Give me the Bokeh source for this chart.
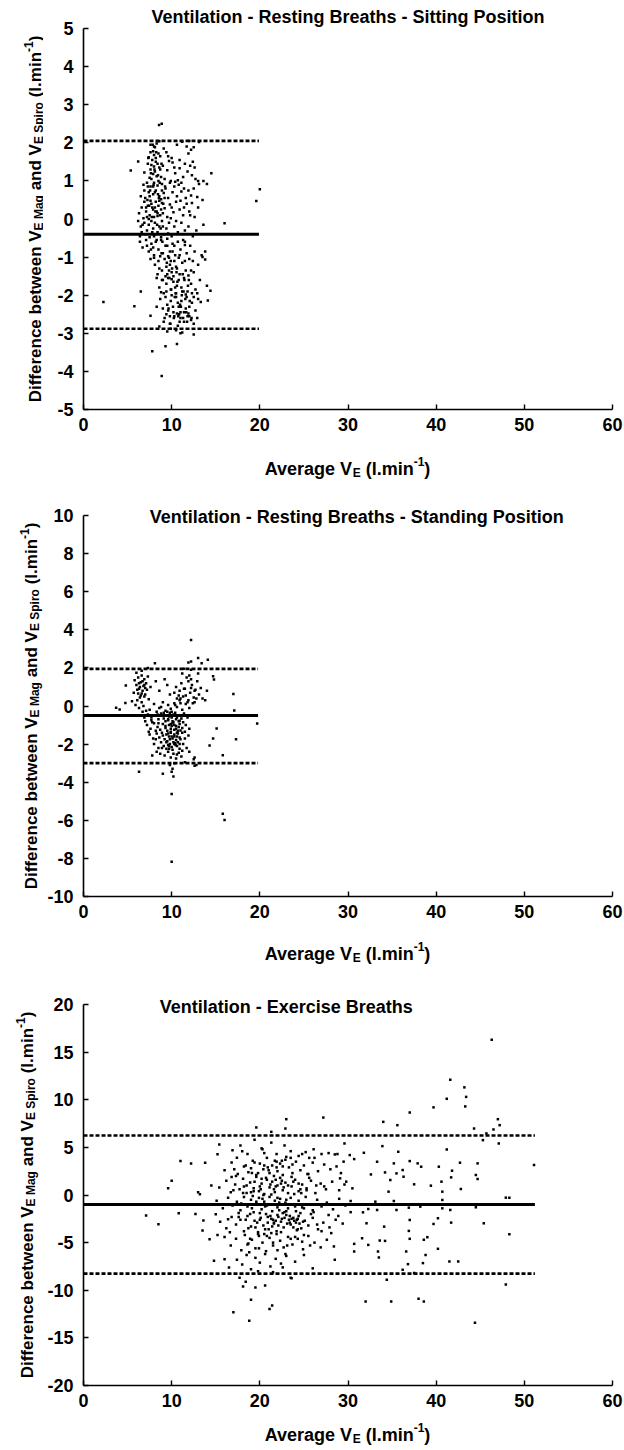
import math
from bokeh.plotting import figure
from bokeh.models import Label, FixedTicker, Range1d
from bokeh.layouts import column, row
from bokeh.core.properties import value
from bokeh.embed import file_html
from bokeh.resources import INLINE

# ---------------- data ----------------
x_ticks = [0, 10, 20, 30, 40, 50, 60]

# Panel 1: sitting
sit_x = [8.87, 8.57, 5.36, 2.26, 5.77, 20.0, 19.6, 16.0, 14.5, 8.87, 7.8, 9.3, 10.6, 11.0, 12.5, 6.5, 7.6, 6.2, 14.0, 13.6, 13.8, 13.8, 13.5, 14.0, 14.4, 14.1, 13.3, 13.0,
         7.6, 8.1, 8.3, 7.9, 8.5, 9.1, 9.4, 10.0, 10.6, 11.7, 12.2, 12.5, 11.9, 7.4, 7.8, 8.2, 8.0, 9.7, 12.4, 10.9, 13.1, 12.0, 11.2, 8.6,
         7.3, 7.7, 8.0, 8.4, 7.6, 8.1, 8.7, 7.9, 8.3, 9.0, 9.5, 10.1, 10.4, 10.9, 11.3, 11.8, 12.1, 12.3, 12.7, 9.2, 8.8, 7.5, 6.9, 10.7, 11.5, 9.9, 8.5,
         6.8, 7.2, 7.6, 8.0, 8.4, 8.9, 9.3, 9.8, 10.3, 10.8, 11.4, 11.9, 12.5, 13.1, 7.4, 7.9, 8.2, 8.6, 9.1, 9.6, 10.1, 10.6, 11.1, 11.6, 12.2, 12.9, 7.0, 6.5, 8.8, 13.5, 10.4,
         6.3, 6.6, 6.9, 7.1, 7.3, 7.5, 7.7, 7.9, 8.0, 8.2, 8.3, 8.5, 8.7, 8.9, 9.2, 9.5, 9.8, 10.2, 10.5, 10.9, 11.3, 11.7, 12.0, 12.6, 13.0, 6.8, 7.6, 8.1, 8.6, 9.0, 9.9, 11.0, 12.3, 7.2, 8.4,
         6.2, 6.5, 6.9, 7.2, 7.4, 7.7, 7.9, 8.1, 8.4, 8.6, 8.9, 9.1, 9.4, 9.7, 10.0, 10.3, 10.7, 11.1, 11.5, 11.9, 12.4, 13.6, 6.4, 7.0, 7.5, 8.0, 8.8, 9.6, 10.5, 12.8,
         6.4, 6.7, 7.1, 7.4, 7.7, 8.0, 8.2, 8.5, 8.8, 9.0, 9.3, 9.5, 9.8, 10.1, 10.4, 10.7, 11.0, 11.3, 11.7, 12.1, 12.6, 13.4, 7.9, 8.7, 9.6, 11.5,
         7.6, 8.1, 8.5, 8.9, 9.2, 9.5, 9.8, 10.0, 10.3, 10.6, 10.9, 11.2, 11.6, 12.0, 12.5, 13.0, 8.4, 9.4, 10.8, 11.9, 9.7, 8.0,
         8.3, 8.6, 8.9, 9.1, 9.4, 9.6, 9.9, 10.2, 10.5, 10.8, 11.1, 11.4, 11.8, 12.2, 12.7, 13.2, 9.3, 10.0, 10.6, 11.6, 8.8, 12.9,
         8.7, 9.0, 9.3, 9.6, 9.9, 10.2, 10.5, 10.8, 11.1, 11.4, 11.7, 12.0, 12.3, 12.7, 13.0, 10.6, 11.9, 9.5, 8.3, 12.5,
         9.2, 9.8, 10.3, 10.7, 11.0, 11.4, 11.8, 12.2, 12.5, 9.5, 10.5, 11.2, 9.9, 8.6, 12.9,
         7.5, 7.8, 8.1, 8.4, 7.7, 8.2, 7.9, 8.6, 7.4, 7.8, 8.3, 8.8, 9.2, 7.3, 8.7, 8.0, 7.6, 9.0, 9.5, 9.9, 10.2, 10.4, 10.7, 11.0, 11.3,
         10.0, 9.7, 10.5, 11.2, 11.6, 12.0, 12.3, 10.9, 9.4, 9.0, 9.8, 10.1, 11.5, 12.2, 8.6, 7.2, 6.6, 6.9, 9.6, 10.3, 11.1, 12.6, 11.4, 10.0, 8.9]
sit_y = [2.5, 2.47, 1.27, -2.18, -2.29, 0.78, 0.47, -0.11, 1.2, -4.12, -3.47, -3.34, -3.28, -3.0, -3.03, -1.9, -2.54, 1.51, 0.92, 1.0, -0.85, -1.06, -1.0, -1.75, -1.88, -2.14, -2.18, 1.0,
         1.95, 1.88, 1.98, 1.78, 1.72, 1.85, 1.75, 1.6, 1.95, 1.9, 1.82, 1.88, 1.72, 1.62, 1.55, 1.6, 1.68, 1.52, 1.5, 1.55, 2.02, 2.05, 2.03, 2.04,
         1.45, 1.42, 1.38, 1.45, 1.3, 1.25, 1.3, 1.18, 1.12, 1.4, 1.28, 1.48, 1.2, 1.33, 1.1, 1.25, 1.4, 1.15, 1.05, 1.05, 1.1, 1.08, 1.22, 1.02, 1.45, 1.0, 1.0,
         0.9, 0.95, 0.85, 0.95, 0.88, 0.92, 0.8, 0.95, 0.85, 0.9, 0.8, 0.75, 0.8, 0.92, 0.7, 0.65, 0.75, 0.6, 0.68, 0.55, 0.7, 0.6, 0.72, 0.55, 0.62, 0.58, 0.55, 0.6, 0.52, 0.5, 0.98,
         0.15, 0.3, 0.45, 0.2, 0.35, 0.1, 0.4, 0.25, 0.05, 0.45, 0.2, 0.35, 0.1, 0.42, 0.28, 0.05, 0.38, 0.18, 0.45, 0.25, 0.1, 0.4, 0.2, 0.05, 0.3, 0.02, 0.48, 0.3, 0.48, 0.15, 0.02, 0.48, 0.42, 0.05, 0.08,
         -0.05, -0.2, -0.1, -0.3, -0.15, -0.05, -0.25, -0.1, -0.35, -0.2, -0.05, -0.4, -0.25, -0.1, -0.45, -0.2, -0.35, -0.1, -0.3, -0.2, -0.45, -0.15, -0.45, -0.4, -0.48, -0.45, -0.48, -0.38, -0.05, -0.3,
         -0.6, -0.75, -0.55, -0.85, -0.65, -0.95, -0.6, -0.8, -0.55, -0.9, -0.7, -0.52, -0.85, -0.65, -0.95, -0.6, -0.8, -0.55, -0.9, -0.7, -0.85, -0.95, -0.75, -0.98, -0.98, -0.68,
         -1.05, -1.2, -1.1, -1.35, -1.05, -1.45, -1.2, -1.4, -1.1, -1.3, -1.45, -1.15, -1.35, -1.05, -1.4, -1.2, -1.45, -1.25, -1.02, -1.48, -1.02, -1.02,
         -1.55, -1.8, -1.6, -1.95, -1.7, -1.55, -1.85, -1.65, -1.95, -1.6, -1.8, -1.55, -1.9, -1.7, -1.85, -1.6, -1.5, -1.58, -1.75, -1.98, -1.92, -1.95,
         -2.1, -2.35, -2.05, -2.4, -2.15, -2.45, -2.05, -2.3, -2.15, -2.45, -2.05, -2.3, -2.2, -2.4, -2.1, -2.48, -2.48, -2.25, -2.3, -2.05,
         -2.6, -2.75, -2.55, -2.8, -2.6, -2.7, -2.55, -2.65, -2.75, -2.95, -2.92, -2.98, -2.88, -2.82, -2.6,
         0.6, 0.3, 0.7, 0.15, 1.05, 1.5, 0.85, 1.35, 0.0, -0.35, -0.55, 0.25, 0.55, 0.85, 1.65, 1.9, 1.75, -0.2, -0.7, -1.1, -1.5, -1.8, -2.2, -2.45, -2.6,
         -2.0, -1.35, -1.25, -1.9, -2.35, -2.55, -1.95, -2.7, -1.9, -1.6, -2.55, -0.85, -1.1, -1.35, -1.3, -0.7, -0.35, 0.75, 1.65, 1.35, 0.95, 1.35, 0.3, 0.3, 0.75]
# additional points in the densest part of the sitting cloud
sit_x_more = [7.35, 7.65, 7.95, 8.25, 8.55, 8.85, 7.45, 7.75, 8.05, 8.35, 8.65, 8.95, 7.55, 7.85, 8.15, 8.45, 8.75, 9.05, 7.25, 7.65, 8.05, 8.45, 8.85, 9.25,
              9.45, 9.75, 10.05, 10.35, 10.65, 10.95, 11.25, 11.55, 11.85, 9.65, 9.95, 10.25, 10.55, 10.85, 11.15, 11.45, 11.75, 12.05,
              9.85, 10.15, 10.45, 10.75, 11.05, 11.35, 11.65, 11.95, 12.25, 10.3, 10.9, 11.5, 9.1, 9.4, 12.4, 12.1, 7.1, 6.7]
sit_y_more = [1.6, 1.2, 0.9, 1.75, 0.55, 1.45, 0.35, 0.05, 1.3, -0.15, 0.95, -0.6, 0.75, 1.95, 0.2, 1.15, -0.25, 0.4, 0.5, -0.8, -0.4, 0.65, -0.9, 0.85,
              -1.15, -1.55, -1.3, -2.05, -1.65, -2.25, -1.45, -2.1, -1.75, -2.35, -1.85, -2.6, -1.4, -2.5, -2.0, -1.6, -2.7, -2.15,
              -2.75, -2.3, -1.95, -2.55, -2.3, -1.9, -2.45, -1.6, -2.6, -0.7, -0.95, -0.6, -2.7, -2.5, -1.1, 0.1, 0.3, -0.15]
sit_mean, sit_upper, sit_lower, sit_xend = -0.4, 2.05, -2.88, 19.9

# Panel 2: standing
std_x = [12.2, 13.0, 14.1, 11.9, 12.2, 13.4, 8.1, 7.3, 14.7, 14.8, 17.0, 17.1, 19.7, 17.3, 15.8, 15.8, 16.0, 10.0, 10.0, 6.3, 9.0, 10.2, 14.3, 14.7, 15.1, 3.7, 4.1, 4.75, 4.8, 5.1, 12.6, 12.6,
         5.8, 6.0, 6.2, 6.3, 6.5, 6.6, 6.7, 6.8, 6.9, 7.0, 7.1, 6.4, 6.1, 6.6, 6.9, 7.2, 5.7, 5.9, 6.3, 6.7, 7.4, 7.6, 6.0, 6.6, 5.5, 7.3, 6.2, 6.8,
         7.5, 8.0, 8.6, 9.0, 9.3, 9.6, 9.9, 10.3, 10.6, 10.9, 11.2, 11.6, 12.0, 8.3,
         6.9, 7.3, 7.7, 8.1, 8.5, 8.8, 9.1, 9.4, 9.6, 9.8, 10.0, 10.2, 10.5, 10.8, 11.1, 11.4, 11.8, 12.3, 9.3, 10.1, 10.9, 7.0,
         7.2, 7.6, 8.0, 8.4, 8.7, 9.0, 9.3, 9.5, 9.7, 9.9, 10.1, 10.3, 10.5, 10.7, 10.9, 11.2, 11.6, 12.0, 8.2, 10.0, 11.0, 7.8,
         7.5, 7.9, 8.3, 8.6, 8.9, 9.2, 9.4, 9.7, 9.9, 10.1, 10.3, 10.5, 10.7, 10.9, 11.2, 11.5, 11.9, 10.2, 9.5, 10.6,
         8.0, 8.5, 8.8, 9.1, 9.4, 9.8, 10.0, 10.4, 10.6, 10.9, 11.3, 11.7, 9.6, 10.3, 10.45,
         8.7, 9.2, 9.6, 9.9, 10.2, 10.5, 10.8, 11.1, 8.3, 12.0, 12.5, 7.8,
         9.8, 10.1, 10.3, 10.0, 12.8, 11.5,
         10.6, 10.9, 11.1, 11.3, 11.5, 11.7, 11.9, 12.1, 12.3, 12.5, 12.7, 12.9, 13.1, 13.3, 13.5, 11.2, 12.0, 12.4, 11.0, 10.5, 9.8, 9.5, 9.2, 8.6, 8.2, 12.2, 11.4, 13.0, 14.0, 13.8, 10.3, 12.6,
         9.5, 9.7, 10.0, 10.2, 10.4, 9.9, 10.6, 10.8, 10.3, 9.6, 9.8, 10.7, 11.0, 10.1, 10.9, 9.3, 9.0, 8.5, 8.2, 11.3,
         11.5, 10.4, 10.8, 11.6, 12.2, 12.8, 11.9, 6.4, 6.7, 6.1, 6.5, 7.0, 9.1, 9.7, 10.6, 8.9, 11.2, 7.4, 7.1, 8.8,
         9.6, 9.9, 10.2, 10.5, 10.8, 9.4, 9.7, 10.0, 10.3, 10.6, 11.0, 11.4, 11.8, 12.2, 12.6, 6.3, 6.6, 6.9, 7.7, 8.4]
std_y = [3.47, 2.52, 2.43, 2.29, 2.33, 2.24, 2.24, 2.0, 1.56, 1.39, 0.63, -0.23, -0.92, -1.75, -2.59, -5.66, -5.99, -4.62, -8.18, -3.45, -3.56, -3.7, -2.08, -1.7, -1.18, -0.09, -0.19, 0.16, 1.08, -0.49, -3.14, -2.7,
         1.35, 1.1, 1.5, 0.9, 1.25, 1.6, 0.8, 1.05, 1.4, 0.6, 1.2, 0.45, 0.3, 0.2, 0.5, 0.85, 0.7, 0.05, -0.1, -0.3, 0.35, 1.0, 1.75, 1.85, 0.25, 1.55, 0.65, 0.0,
         -0.2, 0.1, -0.1, 0.2, -0.25, 0.05, -0.15, 0.15, -0.05, 0.3, -0.2, 0.1, -0.1, -0.3,
         -0.6, -0.45, -0.75, -0.5, -0.7, -0.4, -0.65, -0.5, -0.75, -0.35, -0.6, -0.45, -0.7, -0.5, -0.65, -0.4, -0.6, -0.5, -0.8, -0.8, -0.78, -0.8,
         -1.0, -1.2, -0.9, -1.1, -1.25, -0.95, -1.15, -1.3, -1.0, -1.2, -0.9, -1.25, -1.05, -1.3, -0.95, -1.15, -1.0, -1.2, -1.3, -1.05, -1.28, -0.85,
         -1.5, -1.7, -1.45, -1.65, -1.4, -1.75, -1.5, -1.6, -1.35, -1.7, -1.5, -1.78, -1.45, -1.65, -1.4, -1.7, -1.55, -1.9, -1.85, -1.6,
         -2.0, -2.2, -1.9, -2.1, -2.25, -2.0, -2.15, -1.95, -2.1, -2.25, -2.0, -2.2, -2.05, -2.0, -2.05,
         -2.5, -2.6, -2.4, -2.7, -2.5, -2.75, -2.45, -2.65, -2.4, -2.4, -2.8, -2.6,
         -3.1, -3.3, -3.0, -3.45, -3.1, -2.95,
         0.4, 0.8, 1.2, 0.5, 0.9, 1.5, 0.3, 0.7, 1.1, 0.45, 0.85, 1.3, 0.6, 0.95, 0.4, 1.7, 1.6, 0.15, 0.15, 1.0, 0.6, 1.1, 1.4, 0.8, 1.3, 1.9, 1.95, 1.7, 0.8, 0.3, 0.7, 0.2,
         -0.3, -0.55, -0.3, -0.85, -0.35, -0.95, -1.4, -1.1, -1.6, -1.45, -1.75, -1.9, -1.75, -2.3, -2.0, -1.05, -1.55, -0.9, -1.75, -0.85,
         -1.35, 0.05, 0.55, 0.55, 0.95, 0.4, 1.3, 1.0, 1.3, 0.85, 0.55, 0.95, -0.35, -2.25, -2.55, -2.2, -2.35, -1.35, -0.25, -0.05,
         -0.7, -1.4, -0.5, -1.2, -0.8, -1.9, -2.1, -1.6, -1.0, -0.6, 0.4, 0.9, 0.2, 1.4, 0.8, 1.2, 0.65, 1.1, -0.6, -0.45]
std_mean, std_upper, std_lower, std_xend = -0.5, 1.95, -3.0, 19.8

# Panel 3: exercise
ex_x = [46.3, 41.6, 43.2, 43.4, 41.2, 43.3, 39.7, 37.0, 34.0, 35.6, 47.0, 47.2, 46.5, 44.3, 45.7, 45.3, 47.1, 23.0, 27.2, 22.9, 19.6, 21.3, 51.1, 15.4, 11.0, 12.2, 10.0, 9.6,
        8.5, 7.1, 10.8, 12.7, 13.2, 13.8, 13.6, 13.5, 14.3, 14.8, 15.0, 15.2, 16.4, 15.2, 16.0, 17.0, 18.8, 19.0, 18.1, 19.5, 20.6, 21.4, 21.1, 23.6, 22.6,
        32.0, 34.9, 38.0, 38.6, 34.4, 37.5, 42.5, 41.5, 44.4, 47.9, 48.3, 45.4, 47.9, 48.3, 44.5, 44.5, 44.7, 44.7, 42.8, 42.7, 41.8, 41.7, 41.2, 40.3, 40.6,
        40.7, 40.7, 40.7, 41.6, 41.7, 40.2, 39.7, 40.2, 39.0, 38.6, 38.8, 38.5, 39.4, 38.3, 37.9, 37.0, 37.5, 36.9, 38.2, 37.0, 36.9, 37.0, 36.6, 36.8, 36.2,
        35.7, 35.5, 35.2, 36.3, 36.2, 34.2, 34.8, 34.6, 35.2, 35.5, 34.1, 34.2, 33.6, 33.4, 33.5, 33.9, 33.3, 32.6, 31.8, 33.1, 33.3, 32.3, 31.7, 32.1, 31.6,
        30.7, 30.7, 32.3, 30.3, 30.5, 29.8, 29.1, 30.2, 30.7, 29.6, 28.5,
        16.9, 17.8, 19.4, 20.5, 21.3, 21.9, 22.8, 23.5, 24.4, 25.2, 26.1, 27.0, 27.8, 28.8, 20.2, 23.0, 18.6, 25.6,
        16.0, 16.8, 17.5, 18.2, 18.7, 19.2, 19.6, 20.0, 20.4, 20.8, 21.1, 21.4, 21.7, 22.0, 22.3, 22.6, 22.9, 23.3, 23.7, 24.1, 24.6, 25.0, 25.5, 26.0, 26.6, 27.3, 28.0, 28.7, 29.2, 19.0, 21.6, 23.5, 17.1,
        15.4, 16.2, 16.7, 17.2, 17.7, 18.1, 18.5, 18.9, 19.3, 19.6, 19.9, 20.2, 20.5, 20.8, 21.1, 21.4, 21.7, 22.0, 22.3, 22.6, 22.9, 23.2, 23.6, 24.0, 24.4, 24.8, 25.3, 25.8, 26.3, 26.9, 27.5, 28.2, 29.0, 29.6, 20.0, 21.3, 22.5, 19.0, 23.9, 18.2, 14.5, 13.0,
        15.1, 15.8, 16.4, 16.9, 17.4, 17.8, 18.2, 18.6, 19.0, 19.3, 19.6, 19.9, 20.2, 20.5, 20.8, 21.1, 21.4, 21.7, 22.0, 22.3, 22.6, 22.9, 23.2, 23.5, 23.8, 24.1, 24.4, 24.8, 25.2, 25.6, 26.0, 26.5, 27.0, 27.6, 28.3, 29.0, 29.7, 30.3, 21.0, 23.0, 24.6, 20.0, 18.0,
        15.5, 16.2, 16.8, 17.3, 17.8, 18.2, 18.6, 19.0, 19.4, 19.8, 20.1, 20.4, 20.7, 21.0, 21.3, 21.6, 21.9, 22.1, 22.4, 22.7, 23.0, 23.3, 23.5, 23.8, 24.1, 24.4, 24.7, 25.1, 25.5, 26.0, 26.6, 27.2, 27.9, 28.6, 29.4, 22.5, 23.9, 24.3, 21.8, 20.9,
        16.0, 16.7, 17.3, 17.9, 18.3, 18.7, 19.1, 19.5, 19.9, 20.3, 20.7, 21.1, 21.5, 21.9, 22.3, 22.7, 23.2, 23.7, 24.3, 24.9, 25.5, 26.2, 26.9, 27.6, 28.4, 20.5, 22.0,
        16.5, 17.4, 18.0, 18.5, 19.0, 19.5, 20.0, 20.6, 21.2, 21.8, 22.4, 23.0, 24.0, 25.0, 26.0, 28.5, 19.8, 21.5,
        17.7, 18.4, 23.5,
        18.5, 19.2, 19.8, 20.3, 20.7, 21.2, 21.6, 22.1, 22.4, 22.8, 23.1, 23.4, 23.8, 24.2, 24.5, 22.0, 21.5, 20.6, 19.7, 19.1, 18.4, 17.6, 17.0, 16.6, 20.9,
        21.8, 22.7, 23.6, 24.7, 25.8, 26.4, 27.0, 25.0, 23.5, 21.3, 19.5, 18.9, 20.1, 22.2, 24.0, 26.2, 24.8, 21.9, 20.5, 19.4, 17.4, 18.8, 22.9, 25.7, 27.8]
ex_y = [16.3, 12.1, 11.3, 10.3, 10.1, 9.3, 9.2, 8.66, 7.68, 7.33, 7.96, 7.33, 6.88, 6.98, 6.46, 5.76, 5.41, 7.96, 8.13, 6.98, 7.09, 6.63, 3.14, 5.3, 3.56, 3.32, 1.5, 0.7,
        -3.07, -2.16, -1.92, -1.99, 0.07, 3.39, -2.69, -3.73, -4.64, -6.91, -2.02, 4.29, -2.55, -4.19, -6.74, -12.3, -13.2, -11.0, -9.6, -9.7, -9.5, -11.6, -11.97, -8.73, -7.6,
        -11.17, -11.17, -10.9, -11.17, -8.9, -8.2, -6.98, -6.98, -13.4, -9.4, -4.12, -2.97, -0.28, -0.28, -1.29, 2.1, 3.32, 1.68, 0.63, 3.39, 2.55, 1.85, 4.78, 2.97, 1.4,
        0.35, -0.52, -1.4, -1.57, -2.9, -2.44, -3.04, -5.65, -4.43, -4.7, -6.3, -7.15, 0.98, 2.97, 3.32, 3.56, 1.12, -1.33, -1.22, -2.62, -3.77, -4.6, -5.93, -7.26, -7.85,
        4.54, 2.27, 3.32, 1.92, 2.62, 2.37, 1.57, 0.35, -0.63, -1.57, -3.32, -4.82, -4.78, -5.93, -6.56, 5.13, 3.49, 2.16, 4.43, -0.7, -1.57, -1.47, -1.82, -2.97, -4.54,
        -5.13, -5.93, -5.24, -0.63, 0.7, 1.4, 1.75, 4.19, 3.77, 5.41, 4.26,
        4.7, 5.2, 5.8, 4.4, 5.5, 4.3, 5.2, 4.6, 4.1, 4.5, 4.8, 4.3, 4.4, 4.3, 4.9, 4.0, 4.3, 3.9,
        2.6, 3.4, 2.2, 3.0, 2.4, 3.6, 2.1, 3.3, 2.7, 3.9, 2.3, 3.1, 3.6, 2.5, 3.3, 2.1, 3.7, 2.9, 2.3, 3.5, 2.6, 3.1, 2.2, 3.4, 2.5, 3.2, 2.7, 3.0, 2.3, 2.8, 2.0, 3.9, 2.7,
        0.8, 1.5, 0.3, 1.1, 0.6, 1.7, 0.2, 1.3, 0.7, 1.9, 0.4, 1.2, 0.1, 1.6, 0.8, 1.4, 0.3, 1.0, 1.8, 0.5, 1.3, 0.2, 0.9, 1.6, 0.4, 1.1, 0.7, 1.5, 0.2, 1.2, 0.6, 1.4, 0.5, 1.1, 0.9, 0.05, 1.5, 0.3, 0.1, 0.9, 1.0, 0.3,
        -0.6, -1.4, -0.3, -1.1, -0.7, -1.6, -0.2, -1.2, -0.5, -1.8, -0.9, -0.3, -1.5, -0.7, -1.1, -0.2, -1.7, -0.6, -1.3, -0.4, -1.9, -0.8, -1.4, -0.3, -1.0, -1.7, -0.6, -1.3, -0.2, -1.0, -1.6, -0.5, -1.2, -0.8, -1.5, -0.4, -1.1, -1.8, -1.0, -1.7, -1.9, -1.9, -1.0,
        -2.8, -3.5, -2.3, -3.1, -2.6, -3.8, -2.2, -3.3, -2.7, -3.9, -2.4, -3.2, -2.0, -3.6, -2.5, -3.0, -3.8, -2.3, -2.8, -3.4, -2.1, -2.6, -3.1, -2.4, -2.9, -2.2, -3.5, -2.7, -3.2, -2.4, -3.6, -2.9, -3.4, -2.6, -3.0, -2.5, -2.7, -2.5, -2.7, -2.9,
        -4.4, -5.3, -4.6, -5.8, -4.2, -5.1, -4.7, -5.6, -4.3, -5.0, -5.9, -4.5, -5.3, -4.1, -4.8, -5.5, -4.4, -5.2, -4.6, -5.7, -4.3, -5.0, -5.5, -4.7, -5.4, -4.1, -5.8,
        -7.6, -6.8, -7.3, -6.3, -7.8, -6.6, -7.1, -6.2, -7.5, -6.7, -7.2, -6.4, -7.0, -6.3, -7.7, -6.8, -8.0, -8.1,
        -8.7, -9.1, -8.7,
        1.0, -0.1, 2.3, -0.4, 1.8, -2.2, 0.6, -3.2, 1.2, -2.4, -3.0, -2.2, -3.4, -2.6, -3.0, -2.1, -2.6, -3.6, -2.9, -1.4, -2.6, -1.9, 0.5, -3.9, 2.9,
        1.6, 0.8, 1.9, 0.2, -2.0, 1.0, -3.8, -4.2, -4.6, -4.0, -3.4, -4.6, 0.6, -0.8, -1.2, 3.9, 4.3, 3.5, 3.1, 1.4, 3.9, -6.0, -6.2, -5.3, -2.1]
# additional points in the densest part of the exercise cloud
ex_x_more = [17.3, 17.9, 18.4, 18.9, 19.3, 19.8, 20.2, 20.6, 21.0, 21.4, 21.8, 22.2, 22.6, 23.0, 23.4, 23.8, 24.2, 24.6, 25.0, 25.4,
             17.6, 18.1, 18.7, 19.1, 19.6, 20.0, 20.4, 20.8, 21.2, 21.6, 22.0, 22.4, 22.8, 23.2, 23.6, 24.0, 24.4, 24.9, 25.3, 26.1,
             18.0, 18.6, 19.4, 19.9, 20.3, 20.9, 21.5, 21.9, 22.5, 23.1, 23.7, 24.3, 24.8, 25.6, 26.5, 27.3, 28.1, 28.9, 29.5, 16.8]
ex_y_more = [2.0, -0.9, 3.1, -2.0, 0.4, -4.1, 1.7, -1.2, 2.6, -3.3, 0.9, -1.6, 3.0, -0.5, -2.9, 1.4, -3.7, 0.6, -1.4, 2.2,
             -2.3, 0.2, -3.5, 2.3, -0.7, -2.6, 0.0, -4.3, 1.1, -2.9, -0.3, -3.9, -1.8, 1.0, -2.5, -4.4, 1.2, -2.8, 0.5, -1.8,
             4.6, -5.2, 3.4, -5.6, 4.8, -2.3, -5.0, 2.9, 3.6, -5.3, 3.2, -3.6, -4.9, 1.8, -3.1, 0.9, -4.0, -2.2, 3.5, 1.9]
ex_mean, ex_upper, ex_lower, ex_xend = -1.0, 6.25, -8.25, 51.2

# ---------------- styling helpers ----------------
FONT = "Liberation Sans"
AFM = {' ': 278, '(': 333, ')': 333, '-': 333, '.': 278, '0': 556, '1': 556,
       'A': 722, 'B': 722, 'D': 722, 'E': 667, 'M': 833, 'S': 667, 'V': 667,
       'a': 556, 'b': 611, 'c': 556, 'd': 611, 'e': 556, 'f': 333, 'g': 611,
       'i': 278, 'l': 278, 'm': 889, 'n': 611, 'o': 611, 'p': 611, 'r': 389,
       's': 556, 't': 333, 'v': 556, 'w': 778}


def text_w(s, fs):
    return sum(AFM.get(c, 556) for c in s) / 1000.0 * fs


def bare(width, height, x_range, y_range, **borders):
    kw = dict(min_border=0)
    kw.update(borders)
    f = figure(width=width, height=height, x_range=x_range, y_range=y_range,
               output_backend="svg", toolbar_location=None,
               x_axis_location=None, y_axis_location=None,
               background_fill_color="white", border_fill_color="white", **kw)
    f.outline_line_color = None
    f.grid.visible = False
    return f


def rich_text(f, pieces, cx, cy, fs, sfs, vertical=False, yscale=1.0):
    """pieces: (text, kind) with kind 'n', 'sub' or 'sup'.
    Offsets are in pixels; for vertical text the along-text offset is divided by yscale (px per data unit)."""
    total = sum(text_w(t, fs if k == 'n' else sfs) for t, k in pieces)
    pos = -total / 2.0
    for t, k in pieces:
        size = fs if k == 'n' else sfs
        shift = {'n': 0.0, 'sub': -0.22 * fs, 'sup': 0.42 * fs}[k]
        stripped = t.lstrip(" ")
        lead = text_w(t[:len(t) - len(stripped)], size)
        p0 = pos + lead
        if vertical:
            x, y, ang = cx - shift, cy + p0 / yscale, math.pi / 2
        else:
            x, y, ang = cx + p0, cy + shift, 0.0
        f.text(x=[x], y=[y], text=[stripped], angle=ang, text_font=value(FONT), text_font_style="bold",
               text_font_size=value(f"{size}px"), text_color="black",
               text_align="left", text_baseline="alphabetic")
        pos += text_w(t, size)


YLAB = [("Difference between V", 'n'), ("E Mag", 'sub'), (" and V", 'n'), ("E Spiro", 'sub'),
        (" (l.min", 'n'), ("-1", 'sup'), (")", 'n')]
XLAB = [("Average V", 'n'), ("E", 'sub'), (" (l.min", 'n'), ("-1", 'sup'), (")", 'n')]

FW = 529
AX_H = 381          # pixel height of the -lim..+lim axis span
STRIP_W = 43
TOTAL_W = 624
BB = 30             # bottom border of main plots


def panel(xs, ys, mean, upper, lower, xend, ylim, ystep, title, title_xy,
          pad, btop, bbot_strip, xt_mid, yt_base):
    ymin, ymax = -ylim, ylim
    ppu = AX_H / (ymax - ymin)
    ytop = ymax + pad / ppu
    fh = AX_H + pad
    m = figure(frame_width=FW, frame_height=fh, x_range=Range1d(0, 60), y_range=Range1d(ymin, ytop),
               output_backend="svg", toolbar_location=None,
               min_border_left=40, min_border_right=12, min_border_top=btop, min_border_bottom=BB,
               background_fill_color="white", border_fill_color="white")
    m.outline_line_color = None
    m.grid.visible = False
    yticks = list(range(ymin, ymax + 1, ystep))
    m.xaxis.ticker = FixedTicker(ticks=x_ticks)
    m.yaxis.ticker = FixedTicker(ticks=yticks)
    m.yaxis.bounds = (ymin, ymax)
    m.yaxis.major_label_overrides = {t: str(t) for t in yticks}
    for ax in (m.xaxis, m.yaxis):
        ax.axis_line_width = 1.6
        ax.axis_line_color = "black"
        ax.major_tick_in = 5
        ax.major_tick_out = 0
        ax.major_tick_line_width = 1.4
        ax.major_tick_line_color = "black"
        ax.minor_tick_line_color = None
        ax.major_label_text_font = FONT
        ax.major_label_text_font_style = "bold"
        ax.major_label_text_font_size = "18px"
        ax.major_label_text_color = "black"
    m.xaxis.major_label_standoff = 8
    m.yaxis.major_label_standoff = 10
    m.line([0, xend], [upper, upper], line_color="black", line_width=2.6, line_dash="4 2")
    m.line([0, xend], [lower, lower], line_color="black", line_width=2.6, line_dash="4 2")
    m.line([0, xend], [mean, mean], line_color="black", line_width=3)
    m.scatter(xs, ys, marker="square", size=2.5, fill_color="black", line_color=None)
    m.add_layout(Label(x=title_xy[0], y=title_xy[1], text=title,
                       text_font=FONT, text_font_style="bold", text_font_size="18px",
                       text_align="center", text_baseline="middle", text_color="black"))
    mh = btop + fh + BB
    # left strip holding the rotated y-axis title; its frame matches the main frame vertically
    ls = bare(STRIP_W, mh, Range1d(0, STRIP_W), Range1d(ymin, ytop),
              min_border_top=btop, min_border_bottom=BB)
    rich_text(ls, YLAB, yt_base, (ymin + ymax) / 2.0, 17, 12, vertical=True, yscale=ppu)
    # bottom strip holding the x-axis title (pixel coordinates)
    bs = bare(TOTAL_W, bbot_strip, Range1d(0, TOTAL_W), Range1d(0, bbot_strip))
    rich_text(bs, XLAB, 347, bbot_strip - (xt_mid + 6.5), 18, 12)
    return column(row(ls, m, spacing=0), bs, spacing=0)


b1 = panel(sit_x + sit_x_more, sit_y + sit_y_more, sit_mean, sit_upper, sit_lower, sit_xend, 5, 1,
           "Ventilation - Resting Breaths - Sitting Position", (30, 5.29), 20, 8, 51, 23, 35)
b2 = panel(std_x, std_y, std_mean, std_upper, std_lower, std_xend, 10, 2,
           "Ventilation - Resting Breaths - Standing Position", (31, 9.9), 15, 10, 49, 21, 31)
b3 = panel(ex_x + ex_x_more, ex_y + ex_y_more, ex_mean, ex_upper, ex_lower, ex_xend, 20, 5,
           "Ventilation - Exercise Breaths", (23, 19.7), 15, 14, 35, 13, 27)

layout = column(b1, b2, b3, spacing=0)
open("out.html", "w").write(file_html(layout, INLINE))
